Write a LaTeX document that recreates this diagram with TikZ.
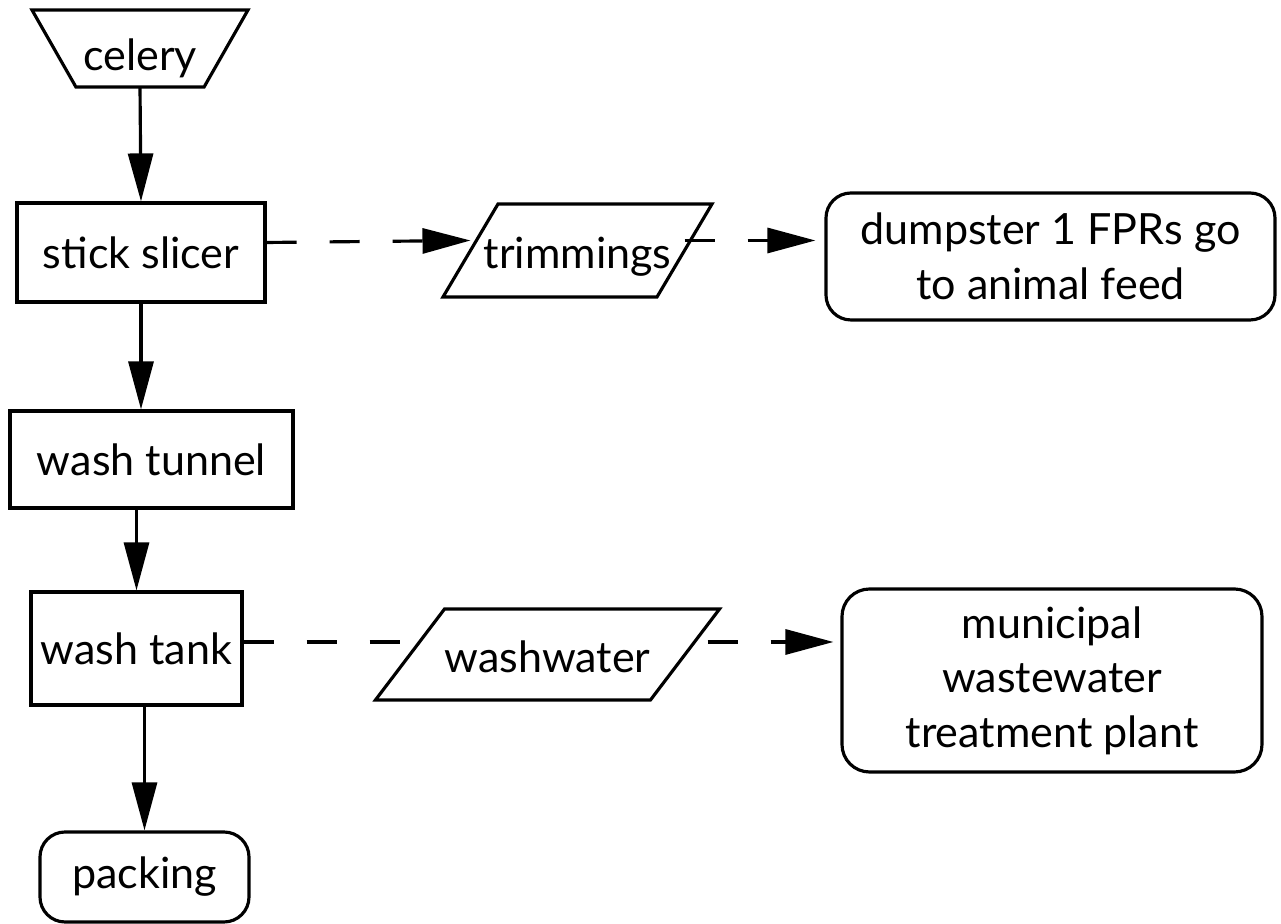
\documentclass[tikz,border=0pt]{standalone}
\usepackage{fontspec}
\setmainfont{Lato}
\usetikzlibrary{shapes.geometric,arrows.meta}

\begin{document}
\begin{tikzpicture}[
    font=\fontsize{24.5}{31}\selectfont,
    procbox/.style={draw, line width=1.8pt, inner sep=0pt},
    endbox/.style={draw, line width=1.8pt, rounded corners=0.5cm, align=center, inner sep=0pt},
    databox/.style={draw, line width=1.8pt, trapezium, trapezium stretches body, inner xsep=0pt, outer sep=0pt, text height=0.77cm, text depth=0.05cm},
    flow/.style={line width=1.8pt, -{Triangle[length=0.96cm, width=0.5cm]}},
    wasteline/.style={line width=1.8pt, dash pattern=on 0.6cm off 0.66cm},
    waste/.style={flow, wasteline}
]
    \useasboundingbox (0,0) rectangle (25.62,18.48);

    % celery
    \node[databox, shape border rotate=180, trapezium angle=60.3, text height=0.9cm, text depth=0cm, inner ysep=0.32cm, minimum width=4.32cm] (celery) at (2.80,17.51) {celery};

    % main line
    \node[procbox, minimum width=4.96cm, minimum height=1.98cm] (slicer) at (2.82,13.43) {stick slicer};
    \node[procbox, minimum width=5.66cm, minimum height=1.94cm] (tunnel) at (3.03,9.29) {wash tunnel};
    \node[procbox, minimum width=4.22cm, minimum height=2.26cm] (tank) at (2.73,5.51) {wash tank};
    \node[endbox, minimum width=4.18cm, minimum height=1.80cm] (packing) at (2.89,0.94) {packing};

    % trimmings
    \node[databox, trapezium left angle=59.4, trapezium right angle=120.6, inner xsep=-0.3cm, inner ysep=0.52cm, minimum width=5.38cm] (trim) at (11.55,13.47) {trimmings};
    \node[endbox, minimum width=8.98cm, minimum height=2.54cm] (dump) at (21.01,13.35) {dumpster 1 FPRs go\\to animal feed};

    % washwater
    \node[databox, trapezium left angle=52.8, trapezium right angle=127.2, inner ysep=0.5cm, minimum width=6.78cm] (water) at (10.95,5.39) {washwater};
    \node[endbox, rounded corners=0.55cm, minimum width=8.40cm, minimum height=3.66cm] (muni) at (21.04,4.87) {municipal\\wastewater\\treatment plant};

    % arrows
    \draw[flow] (celery.270) -- (slicer.north);
    \draw[flow] (slicer.south) -- (slicer.south |- tunnel.north);
    \draw[flow] (tank.north |- tunnel.south) -- (tank.north);
    \draw[flow] (packing.north |- tank.south) -- (packing.north);

    % dashed
    \draw[waste] ([yshift=2mm]slicer.east) -- ([yshift=2mm]trim.west);
    \draw[waste, shorten >=0.18cm] ([yshift=2mm]trim.east) -- ([yshift=2mm]trim.east -| dump.west);
    \draw[wasteline] ([yshift=1.3mm]tank.east) -- ([yshift=1.3mm]tank.east -| water.west);
    \draw[waste, shorten <=0.45cm, shorten >=0.14cm] ([yshift=2.5mm]water.east) -- ([yshift=2.5mm]water.east -| muni.west);
\end{tikzpicture}
\end{document}
